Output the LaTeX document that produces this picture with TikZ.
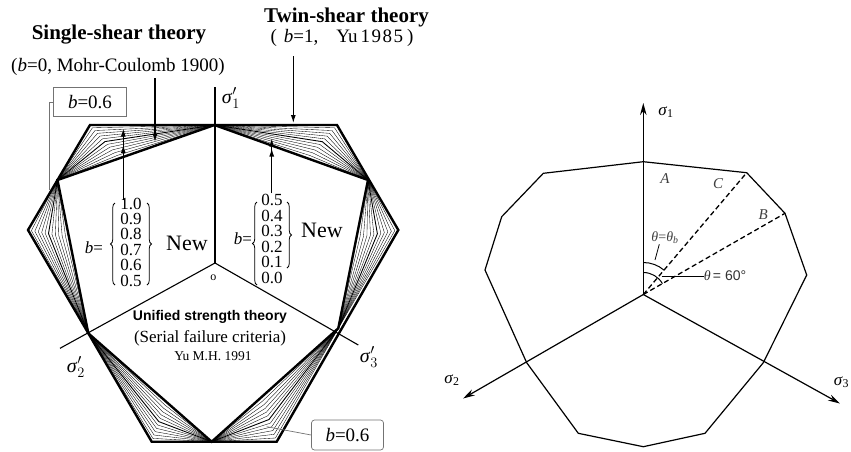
\documentclass[tikz,border=0pt]{standalone}
\usepackage{fontspec}
\setmainfont{Liberation Serif}
\setsansfont{Liberation Sans}
\usetikzlibrary{calc,arrows.meta,decorations.pathreplacing}
\tikzset{
  heavy/.style={line width=2.4pt, line join=miter},
  fanline/.style={line width=0.35pt},
  midline/.style={line width=0.9pt},
  axisline/.style={line width=1.1pt},
  ptr/.style={-{Latex[length=8pt,width=5pt]}, line width=1.1pt},
  rline/.style={line width=1.2pt, line join=round},
  raxis/.style={-{Stealth[length=12pt,width=6.5pt]}, line width=1.2pt},
  rdash/.style={line width=1.3pt, dash pattern=on 5pt off 3pt},
  brc/.style={decorate, decoration={brace, amplitude=4.5pt}, line width=0.8pt},
  lead/.style={draw=black!55, line width=0.7pt},
  lbl/.style={inner sep=0pt},
}
\newcommand\ustfan[4]{%
  \coordinate (#4) at (intersection of O--#2 and #1--#3);
  \foreach \ustk in {1,2,3,4,5,7,8,9,10,11}{%
    \pgfmathsetmacro\ustL{\ustk/12}%
    \draw[fanline] (#1) -- ($(#4)!\ustL!(#2)$) -- (#3);
  }
  \draw[midline] (#1) -- ($(#4)!0.5!(#2)$) -- (#3);
}
\begin{document}
\begin{tikzpicture}[x=1pt,y=-1pt]
\fill[white] (0,0) rectangle (851,451);
\useasboundingbox (0,0) rectangle (851,451);

% ---------------- left figure ----------------
\coordinate (O) at (215,263);
\coordinate (T1) at (214.5,125);
\coordinate (C3) at (368,180);
\coordinate (T3) at (338.3,328.3);
\coordinate (C1) at (211.7,441.7);
\coordinate (T2) at (88.3,333.3);
\coordinate (C2) at (57.5,180);
\coordinate (W1) at (337,125);
\coordinate (W2) at (398.3,230);
\coordinate (W3) at (276.7,441.7);
\coordinate (W4) at (151.7,441.7);
\coordinate (W5) at (28,230);
\coordinate (W6) at (90,125);

\ustfan{T1}{W1}{C3}{M1}
\ustfan{C3}{W2}{T3}{M2}
\ustfan{T3}{W3}{C1}{M3}
\ustfan{C1}{W4}{T2}{M4}
\ustfan{T2}{W5}{C2}{M5}
\ustfan{C2}{W6}{T1}{M6}

\draw[heavy] (T1) -- (C3) -- (T3) -- (C1) -- (T2) -- (C2) -- cycle;
\draw[heavy] (W1) -- (W2) -- (W3) -- (W4) -- (W5) -- (W6) -- cycle;

\coordinate (A1) at (215,87);
\coordinate (A2) at (60,348.3);
\coordinate (A3) at (358.3,345);
\draw[axisline] (O) -- (A1);
\draw[axisline] (O) -- (A2);
\draw[axisline] (O) -- (A3);

\node[lbl] (s1p) at (231,98) {\fontsize{20}{20}\selectfont\textit{σ}$^{\prime}_{1}$};
\node[lbl] (s2p) at (76,367) {\fontsize{20}{20}\selectfont\textit{σ}$^{\prime}_{2}$};
\node[lbl] (s3p) at (369,357) {\fontsize{20}{20}\selectfont\textit{σ}$^{\prime}_{3}$};
\node[lbl] (oo) at (213.3,278) {\fontsize{12}{12}\selectfont o};

\node[lbl] (ss) at (119,35) {\fontsize{21}{21}\selectfont\bfseries Single-shear theory};
\node[lbl] (mc) at (118,67) {\fontsize{19}{19}\selectfont(\textit{b}=0, Mohr-Coulomb 1900)};
\node[lbl] (ts) at (346.5,17) {\fontsize{21}{21}\selectfont\bfseries Twin-shear theory};
\node[lbl] (yu) at (342,38) {\fontsize{19}{19}\selectfont(\hspace{7pt}\textit{b}=1,\hspace{18pt}Yu\hspace{3pt}1\hspace{1.5pt}9\hspace{1.5pt}8\hspace{1.5pt}5\hspace{4pt})};

\coordinate (ssA) at (155,78);
\coordinate (ssB) at (155,141.7);
\draw[ptr] (ssA) -- (ssB);
\coordinate (twA) at (293.3,56);
\coordinate (twB) at (293.3,123);
\draw[ptr] (twA) -- (twB);

\coordinate (lbA) at (123.3,200);
\coordinate (lbB) at (123.3,128.5);
\coordinate (lbC) at (123.3,145);
\draw[ptr] (lbA) -- (lbB);
\draw[ptr] (lbA) -- (lbC);
\coordinate (rbA) at (271.7,193);
\coordinate (rbB) at (271.7,138.5);
\coordinate (rbC) at (271.7,148.5);
\draw[ptr] (rbA) -- (rbB);
\draw[ptr] (rbA) -- (rbC);

\node[lbl] (bl) at (94,248) {\fontsize{17}{17}\selectfont\textit{b}=};
\node[lbl] (ll) at (131,244) {\fontsize{17}{13.6}\selectfont\begin{tabular}{@{}c@{}}1.0\\0.9\\0.8\\0.7\\0.6\\0.5\end{tabular}};
\draw[brc] (115,285) -- (115,203);
\draw[brc] (147,203) -- (147,285);
\node[lbl] (nl) at (187,243) {\fontsize{22}{22}\selectfont New};

\node[lbl] (br) at (243,238.5) {\fontsize{17}{17}\selectfont\textit{b}=};
\node[lbl] (rl) at (272,241) {\fontsize{17}{14}\selectfont\begin{tabular}{@{}c@{}}0.5\\0.4\\0.3\\0.2\\0.1\\0.0\end{tabular}};
\draw[brc] (257,285) -- (257,202);
\draw[brc] (287,202) -- (287,268);
\node[lbl] (nr) at (322,230) {\fontsize{22}{22}\selectfont New};

\node[lbl] (ust) at (210,316.5) {\fontsize{14}{14}\selectfont\sffamily\bfseries Unified strength theory};
\node[lbl] (sfc) at (210,338.5) {\fontsize{17}{17}\selectfont(Serial failure criteria)};
\node[lbl] (ymh) at (213,356.5) {\fontsize{13.5}{13.5}\selectfont Yu M.H. 1991};

\node[draw=black!55, line width=0.7pt, minimum width=73pt, minimum height=29pt, inner sep=0pt] (boxA) at (90,102) {\fontsize{19}{19}\selectfont\textit{b}=0.6};
\coordinate (la) at (49.3,190);
\draw[lead] (boxA.west) -| (la);
\node[draw=black!55, line width=0.7pt, rounded corners=3pt, minimum width=72pt, minimum height=30pt, inner sep=0pt] (boxB) at (347.5,435) {\fontsize{19}{19}\selectfont\textit{b}=0.6};
\coordinate (lb) at (266.7,426.7);
\draw[lead] (boxB.west) -- (lb);

% ---------------- right figure ----------------
\coordinate (P) at (643.3,294.5);
\coordinate (V0) at (643.3,161.7);
\coordinate (V1) at (746.7,172.7);
\coordinate (V2) at (785,213.3);
\coordinate (V3) at (806.7,275);
\coordinate (V4) at (763.3,362.7);
\coordinate (V5) at (705,433.3);
\coordinate (V6) at (643.3,446.7);
\coordinate (V7) at (578.3,433.3);
\coordinate (V8) at (526.7,362.7);
\coordinate (V9) at (485,270);
\coordinate (V10) at (501.7,216.7);
\coordinate (V11) at (543.3,173.3);
\draw[rline] (V0) -- (V1) -- (V2) -- (V3) -- (V4) -- (V5) -- (V6) -- (V7) -- (V8) -- (V9) -- (V10) -- (V11) -- cycle;

\coordinate (S1) at (643.3,103);
\coordinate (S2) at (463,398.5);
\coordinate (S3) at (840,403.5);
\draw[raxis] (P) -- (S1);
\draw[raxis] (P) -- (S2);
\draw[raxis] (P) -- (S3);
\draw[rdash] (P) -- (V1);
\draw[rdash] (P) -- (V2);

\draw[line width=1pt] ($(P)+(0,-32)$) arc[start angle=-90, end angle=-49.5, radius=32];
\draw[line width=1pt] ($(P)+(0,-22)$) arc[start angle=-90, end angle=-29.8, radius=22];

\node[lbl] (r1) at (666,112) {\fontsize{17}{17}\selectfont\textit{σ}\textsubscript{1}};
\node[lbl] (r2) at (452,380) {\fontsize{17}{17}\selectfont\textit{σ}\textsubscript{2}};
\node[lbl] (r3) at (841.5,382) {\fontsize{17}{17}\selectfont\textit{σ}\textsubscript{3}};
\node[lbl, text=black!75] (la1) at (665,179) {\fontsize{15}{15}\selectfont\textit{A}};
\node[lbl, text=black!75] (lc1) at (718.3,183.3) {\fontsize{15}{15}\selectfont\textit{C}};
\node[lbl, text=black!75] (lb1) at (763.3,215) {\fontsize{15}{15}\selectfont\textit{B}};
\node[lbl, text=black!75] (thb) at (665,238) {\fontsize{14}{14}\selectfont\textit{θ}=\textit{θ}\textsubscript{\textit{b}}};
\node[lbl, text=black!80] (th6) at (725,276) {\fontsize{14}{14}\selectfont\textit{θ}\,{\sffamily= 60°}};
\coordinate (tbl) at (655,260);
\draw[line width=0.8pt] (tbl) -- (thb.south -| 659.3,0);
\coordinate (t6l) at (661.7,276);
\draw[line width=0.8pt] (t6l) -- (th6.west);
\end{tikzpicture}
\end{document}
